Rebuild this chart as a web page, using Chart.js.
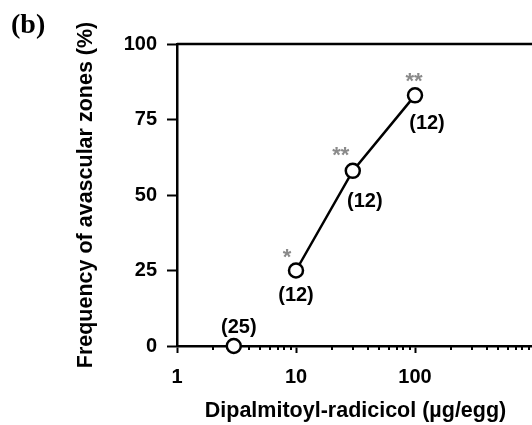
<!DOCTYPE html>
<html>
<head>
<meta charset="utf-8">
<script src="https://cdn.jsdelivr.net/npm/chart.js@4.4.0/dist/chart.umd.min.js"></script>
<style>
html, body { margin: 0; padding: 0; background: #fff; overflow: hidden; }
#wrap { position: relative; width: 532px; height: 425px; overflow: hidden; }
#panel { position: absolute; left: 11px; top: 8px; font: bold 28px 'Liberation Serif', serif; color: #000; }
canvas { position: absolute; left: 0; top: 0; }
</style>
</head>
<body>
<div id="wrap">
  <canvas id="avChart" width="560" height="425"></canvas>
  <div id="panel">(b)</div>
</div>
<script>
// dose (µg/egg) and response
const doses = [3, 10, 30, 100];
const frequency = [0, 25, 58, 83];
const eggCounts = ['(25)', '(12)', '(12)', '(12)'];
const significance = ['', '*', '**', '**'];

const xTickValues = [1, 10, 100, 1000];
const xTickLabels = ['1', '10', '100', ''];
const yTickValues = [0, 25, 50, 75, 100];

const FONT = "'Liberation Sans', Arial, sans-serif";

// where the n-labels and asterisks sit relative to each point
const countOffsets = [[5, -19], [0, 25], [12, 31], [12, 28]];
const sigOffsets = [[0, 0], [-9, -13], [-12, -15], [-1, -13]];

const framePlugin = {
    id: 'frame',
    beforeDatasetsDraw(chart) {
        const ctx = chart.ctx;
        const area = chart.chartArea;
        const x = chart.scales.x;
        ctx.save();
        ctx.strokeStyle = '#000';
        ctx.lineWidth = 2.5;
        ctx.beginPath();
        ctx.moveTo(area.left, area.top);
        ctx.lineTo(area.right, area.top);
        ctx.lineTo(area.right, area.bottom);
        ctx.stroke();

        // minor log ticks
        ctx.lineWidth = 2;
        for (let d = 1; d < 1000; d *= 10) {
            for (let m = 2; m <= 9; m++) {
                const px = Math.round(x.getPixelForValue(m * d));
                ctx.beginPath();
                ctx.moveTo(px, area.bottom);
                ctx.lineTo(px, area.bottom + 4);
                ctx.stroke();
            }
        }
        ctx.restore();
    },
    afterDatasetsDraw(chart) {
        const ctx = chart.ctx;
        const meta = chart.getDatasetMeta(0);
        ctx.save();
        ctx.textAlign = 'center';
        ctx.textBaseline = 'middle';
        meta.data.forEach((pt, i) => {
            ctx.fillStyle = '#000';
            ctx.font = `bold 20px ${FONT}`;
            ctx.fillText(eggCounts[i], pt.x + countOffsets[i][0], pt.y + countOffsets[i][1]);
            if (significance[i]) {
                ctx.fillStyle = '#8a8a8a';
                ctx.font = `bold 22px ${FONT}`;
                ctx.fillText(significance[i], pt.x + sigOffsets[i][0], pt.y + sigOffsets[i][1]);
            }
        });
        ctx.restore();
    }
};

const chart = new Chart(document.getElementById('avChart').getContext('2d'), {
    type: 'line',
    data: {
        datasets: [{
            data: doses.map((d, i) => ({ x: d, y: frequency[i] })),
            borderColor: '#000',
            borderWidth: 2.5,
            pointRadius: 7,
            pointBorderWidth: 2.5,
            pointBackgroundColor: '#fff',
            pointBorderColor: '#000',
            clip: false,
            segment: {
                borderColor: ctx => ctx.p0DataIndex === 0 ? 'rgba(0,0,0,0)' : '#000'
            }
        }]
    },
    options: {
        responsive: false,
        animation: false,
        layout: { padding: { left: 73, top: 44, right: 26, bottom: 1 } },
        plugins: { legend: { display: false }, tooltip: { enabled: false } },
        scales: {
            x: {
                type: 'logarithmic',
                min: 1,
                max: 1000,
                afterBuildTicks: scale => {
                    scale.ticks = xTickValues.map(v => ({ value: v }));
                },
                afterFit: scale => { scale.height = 78; },
                ticks: {
                    autoSkip: false,
                    maxRotation: 0,
                    padding: 12,
                    color: '#000',
                    font: { family: FONT, size: 20, weight: 'bold' },
                    callback: (value) => {
                        const i = xTickValues.indexOf(value);
                        return i >= 0 ? xTickLabels[i] : '';
                    }
                },
                grid: { drawOnChartArea: false, tickLength: 7, tickWidth: 2, tickColor: '#000' },
                border: { color: '#000', width: 2.5 },
                title: {
                    display: true,
                    text: 'Dipalmitoyl-radicicol (µg/egg)',
                    color: '#000',
                    padding: 0,
                    font: { family: FONT, size: 21.5, weight: 'bold' }
                }
            },
            y: {
                min: 0,
                max: 100,
                afterBuildTicks: scale => {
                    scale.ticks = yTickValues.map(v => ({ value: v }));
                },
                afterFit: scale => { scale.width = 104; },
                ticks: {
                    padding: 10,
                    color: '#000',
                    font: { family: FONT, size: 20, weight: 'bold' }
                },
                grid: { drawOnChartArea: false, tickLength: 10, tickWidth: 2, tickColor: '#000' },
                border: { color: '#000', width: 2.5 },
                title: {
                    display: true,
                    text: 'Frequency of avascular zones (%)',
                    color: '#000',
                    padding: 0,
                    font: { family: FONT, size: 21.5, weight: 'bold' }
                }
            }
        }
    },
    plugins: [framePlugin]
});
</script>
</body>
</html>
